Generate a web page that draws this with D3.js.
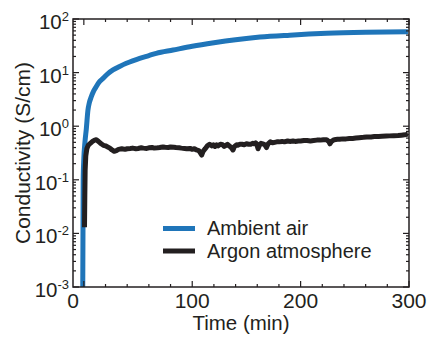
<!DOCTYPE html>
<html><head><meta charset="utf-8">
<script src="https://cdn.jsdelivr.net/npm/d3@7"></script>
<style>body{margin:0;background:#fff}svg{display:block}text{font-family:"Liberation Sans",Arial,sans-serif;fill:#231f20}</style>
</head><body><svg id="c" width="429" height="338"></svg>
<script>
const xDomain = [-10, 300];
const yDomain = [1e-3, 1e2];
const xMajorTicks = [0, 100, 200, 300];
const xTickLabels = ["0", "100", "200", "300"];
const xMinorStep = 20;
const yDecadeExponents = [-3, -2, -1, 0, 1, 2];
const seriesNames = ["Ambient air", "Argon atmosphere"];
const seriesColors = ["#1f75b9", "#231f20"];

const airTime   = [-1, -0.6, 0, 1, 2.3, 3.8, 5, 6.9, 9, 11.5, 14, 17.7, 22, 26.9, 33, 39.2, 45, 51.5, 60, 66.8, 82.3, 100, 120, 140, 162.5, 190, 224, 260, 299];
const airValues = [0.001, 0.1, 0.25, 0.5, 0.9, 2.0, 2.7, 3.55, 4.5, 5.5, 6.6, 7.8, 9.5, 11.2, 13.0, 14.9, 16.6, 18.5, 20.8, 22.9, 26.4, 31, 36, 41, 46, 50, 54, 56.5, 58];

const argonTime   = [0.6, 0.9, 1.2, 1.8, 2.8, 4, 6, 8, 10, 11.5, 13, 14.5, 16, 18, 20, 22, 24, 26, 28, 30, 32, 35, 38, 40, 43, 45, 48, 50, 53, 55, 58, 60, 63, 65, 68, 70, 73, 75, 78, 80, 83, 85, 88, 90, 93, 95, 98, 100, 102, 104, 106, 107, 108.7, 110, 112, 114, 116, 118, 119.5, 121, 122.5, 124, 126, 128, 129.5, 131, 132.5, 134, 136, 137.6, 139, 141, 142, 144, 146, 148, 150, 152, 154, 156, 157, 158.5, 159.5, 160.7, 162, 163.5, 165, 167, 168.5, 170, 172, 174, 176, 178, 180, 183, 185, 188, 190, 193, 195, 198, 200, 203, 206, 209, 212, 215, 218, 221, 224, 226, 227, 228.5, 231, 234, 236, 239, 242, 245, 248, 251, 254, 258, 261, 265, 268, 272, 275, 279, 282, 286, 290, 293, 296, 299];
const argonValues = [0.013, 0.05, 0.15, 0.28, 0.38, 0.44, 0.48, 0.52, 0.55, 0.56, 0.53, 0.5, 0.47, 0.44, 0.43, 0.41, 0.39, 0.36, 0.34, 0.35, 0.37, 0.38, 0.37, 0.38, 0.385, 0.39, 0.38, 0.385, 0.395, 0.39, 0.385, 0.395, 0.40, 0.39, 0.395, 0.40, 0.41, 0.405, 0.40, 0.41, 0.405, 0.40, 0.395, 0.39, 0.385, 0.38, 0.385, 0.37, 0.38, 0.36, 0.35, 0.33, 0.29, 0.34, 0.38, 0.43, 0.46, 0.43, 0.45, 0.42, 0.45, 0.43, 0.46, 0.45, 0.42, 0.44, 0.46, 0.43, 0.40, 0.36, 0.42, 0.45, 0.44, 0.46, 0.46, 0.45, 0.47, 0.46, 0.46, 0.48, 0.47, 0.49, 0.47, 0.38, 0.44, 0.48, 0.47, 0.45, 0.40, 0.47, 0.51, 0.49, 0.50, 0.51, 0.51, 0.52, 0.51, 0.53, 0.52, 0.53, 0.52, 0.53, 0.53, 0.54, 0.54, 0.53, 0.54, 0.55, 0.55, 0.56, 0.56, 0.52, 0.47, 0.52, 0.56, 0.57, 0.57, 0.58, 0.58, 0.59, 0.59, 0.60, 0.61, 0.62, 0.63, 0.63, 0.64, 0.645, 0.65, 0.655, 0.66, 0.665, 0.67, 0.68, 0.69, 0.71];

const L = 73, R = 409, T = 19, B = 287;
const svg = d3.select("#c");
const x = d3.scaleLinear().domain(xDomain).range([L, R]);
const y = d3.scaleLog().domain(yDomain).range([B, T]);

svg.append("clipPath").attr("id", "clip").append("rect")
  .attr("x", L).attr("y", T).attr("width", R - L).attr("height", B - T);

const g = svg.append("g").attr("clip-path", "url(#clip)");
g.append("path").datum(d3.zip(airTime, airValues))
  .attr("d", d3.line().x(d => x(d[0])).y(d => y(d[1])).curve(d3.curveMonotoneX))
  .attr("fill", "none").attr("stroke", seriesColors[0])
  .attr("stroke-width", 5).attr("stroke-linejoin", "round");
g.append("path").datum(d3.zip(argonTime, argonValues))
  .attr("d", d3.line().x(d => x(d[0])).y(d => y(d[1])))
  .attr("fill", "none").attr("stroke", seriesColors[1])
  .attr("stroke-width", 5).attr("stroke-linejoin", "round");

// frame
svg.append("rect").attr("x", L).attr("y", T).attr("width", R - L).attr("height", B - T)
  .attr("fill", "none").attr("stroke", "#231f20").attr("stroke-width", 1.5);

// x ticks (inward, top and bottom)
const xMinor = d3.range(0, xDomain[1] + 1, xMinorStep).filter(v => !xMajorTicks.includes(v));
const tickG = svg.append("g").attr("stroke", "#231f20").attr("stroke-width", 1.2);
[[xMajorTicks, 6], [xMinor, 3]].forEach(([vals, len]) => {
  vals.forEach(v => {
    tickG.append("line").attr("x1", x(v)).attr("x2", x(v)).attr("y1", B).attr("y2", B - len);
    tickG.append("line").attr("x1", x(v)).attr("x2", x(v)).attr("y1", T).attr("y2", T + len);
  });
});
// y ticks (log, inward, left and right)
yDecadeExponents.forEach((e, i) => {
  const v = Math.pow(10, e);
  [L, R].forEach(side => {
    const dir = side === L ? 1 : -1;
    tickG.append("line").attr("x1", side).attr("x2", side + dir * 6).attr("y1", y(v)).attr("y2", y(v));
    if (i < yDecadeExponents.length - 1) {
      for (let m = 2; m <= 9; m++) {
        tickG.append("line").attr("x1", side).attr("x2", side + dir * 3)
          .attr("y1", y(m * v)).attr("y2", y(m * v));
      }
    }
  });
});

// x tick labels
xMajorTicks.forEach((v, i) => {
  const px = i === 0 ? x.range()[0] : x(v);
  svg.append("text").attr("x", px).attr("y", 308).attr("text-anchor", "middle")
    .attr("font-size", 21).text(xTickLabels[i]);
});
// y tick labels
yDecadeExponents.forEach(e => {
  const t = svg.append("text").attr("x", 69).attr("y", y(Math.pow(10, e)) + 10)
    .attr("text-anchor", "end").attr("font-size", 20.5);
  t.append("tspan").text("10");
  t.append("tspan").attr("dy", -8).attr("font-size", 13).text(String(e));
});

// axis titles
svg.append("text").attr("x", (L + R) / 2).attr("y", 330).attr("text-anchor", "middle")
  .attr("font-size", 20.5).text("Time (min)");
svg.append("text").attr("transform", `translate(30,${(T + B) / 2}) rotate(-90)`)
  .attr("text-anchor", "middle").attr("font-size", 21).text("Conductivity (S/cm)");

// legend
seriesNames.forEach((name, i) => {
  const ly = 228.5 + i * 22.5;
  svg.append("line").attr("x1", 163).attr("x2", 195).attr("y1", ly).attr("y2", ly)
    .attr("stroke", seriesColors[i]).attr("stroke-width", 5);
  svg.append("text").attr("x", 207).attr("y", ly + 6.5).attr("font-size", 20).text(name);
});
</script></body></html>
